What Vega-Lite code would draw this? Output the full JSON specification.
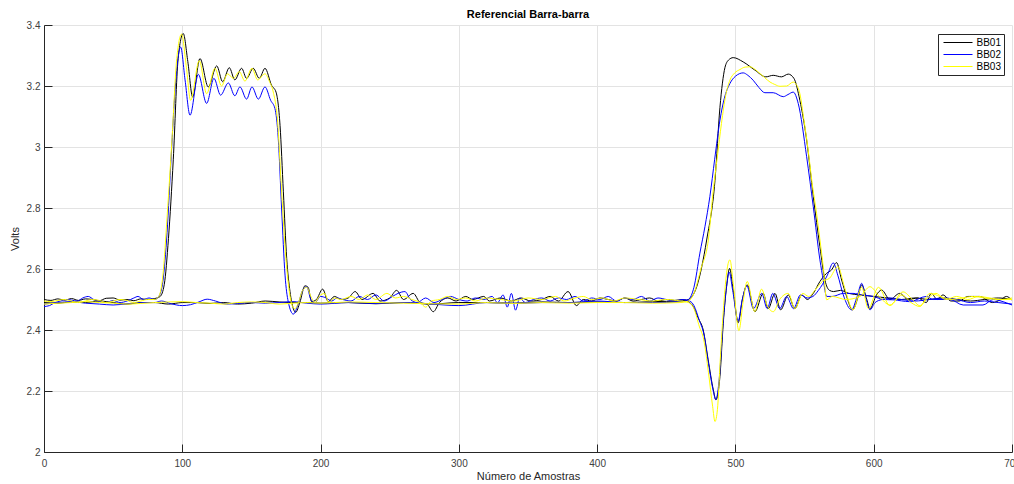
{
"$schema":"https://vega.github.io/schema/vega-lite/v6.json",
"width":968,"height":427,
"autosize":{"type":"none"},
"padding":{"left":44,"top":25,"right":2,"bottom":32},
"background":"#ffffff",
"config":{"font":"Liberation Sans","view":{"stroke":null}},
"title":{"text":"Referencial Barra-barra","fontSize":11,"fontWeight":"bold","color":"#000000","anchor":"middle","offset":0,"font":"Liberation Sans"},
"data":{"values":[
{"s":"BB01","c":"A","x":0,"y":2.5},{"s":"BB01","c":"A","x":5,"y":2.497},{"s":"BB01","c":"A","x":10,"y":2.502},{"s":"BB01","c":"A","x":15,"y":2.498},{"s":"BB01","c":"A","x":20,"y":2.503},{"s":"BB01","c":"A","x":25,"y":2.497},{"s":"BB01","c":"A","x":30,"y":2.502},{"s":"BB01","c":"A","x":35,"y":2.5},{"s":"BB01","c":"A","x":40,"y":2.496},{"s":"BB01","c":"A","x":45,"y":2.504},{"s":"BB01","c":"A","x":50,"y":2.505},{"s":"BB01","c":"A","x":55,"y":2.498},{"s":"BB01","c":"A","x":60,"y":2.5},{"s":"BB01","c":"A","x":65,"y":2.496},{"s":"BB01","c":"A","x":70,"y":2.502},{"s":"BB01","c":"A","x":75,"y":2.5},{"s":"BB01","c":"A","x":80,"y":2.503},{"s":"BB01","c":"A","x":84,"y":2.51},{"s":"BB01","c":"A","x":87,"y":2.55},{"s":"BB01","c":"A","x":90,"y":2.7},{"s":"BB01","c":"A","x":93.5,"y":2.96},{"s":"BB01","c":"A","x":97,"y":3.29},{"s":"BB01","c":"A","x":100.7,"y":3.372},{"s":"BB01","c":"A","x":104,"y":3.28},{"s":"BB01","c":"A","x":107.5,"y":3.164},{"s":"BB01","c":"A","x":112.8,"y":3.29},{"s":"BB01","c":"A","x":118.8,"y":3.197},{"s":"BB01","c":"A","x":124.9,"y":3.266},{"s":"BB01","c":"A","x":129.2,"y":3.214},{"s":"BB01","c":"A","x":134,"y":3.26},{"s":"BB01","c":"A","x":138,"y":3.22},{"s":"BB01","c":"A","x":142.9,"y":3.258},{"s":"BB01","c":"A","x":146.5,"y":3.225},{"s":"BB01","c":"A","x":151.3,"y":3.258},{"s":"BB01","c":"A","x":155.7,"y":3.225},{"s":"BB01","c":"A","x":159.8,"y":3.258},{"s":"BB01","c":"A","x":164.6,"y":3.202},{"s":"BB01","c":"A","x":167.8,"y":3.18},{"s":"BB01","c":"A","x":170.7,"y":3.07},{"s":"BB01","c":"A","x":173.1,"y":2.853},{"s":"BB01","c":"A","x":175.5,"y":2.635},{"s":"BB01","c":"A","x":177.9,"y":2.526},{"s":"BB01","c":"A","x":180.3,"y":2.47},{"s":"BB01","c":"A","x":182,"y":2.458},{"s":"BB01","c":"A","x":185,"y":2.49},{"s":"BB01","c":"A","x":188.7,"y":2.545},{"s":"BB01","c":"A","x":191,"y":2.54},{"s":"BB01","c":"A","x":193.5,"y":2.493},{"s":"BB01","c":"A","x":197,"y":2.5},{"s":"BB01","c":"A","x":201.5,"y":2.534},{"s":"BB01","c":"A","x":205.6,"y":2.493},{"s":"BB01","c":"A","x":210,"y":2.51},{"s":"BB01","c":"A","x":215,"y":2.5},{"s":"BB01","c":"A","x":220,"y":2.505},{"s":"BB01","c":"A","x":225,"y":2.526},{"s":"BB01","c":"A","x":230,"y":2.5},{"s":"BB01","c":"A","x":238,"y":2.52},{"s":"BB01","c":"A","x":243,"y":2.495},{"s":"BB01","c":"A","x":250,"y":2.505},{"s":"BB01","c":"A","x":255,"y":2.53},{"s":"BB01","c":"A","x":260,"y":2.5},{"s":"BB01","c":"A","x":267,"y":2.52},{"s":"BB01","c":"A","x":272,"y":2.49},{"s":"BB01","c":"A","x":277,"y":2.485},{"s":"BB01","c":"A","x":281.5,"y":2.46},{"s":"BB01","c":"A","x":286,"y":2.49},{"s":"BB01","c":"A","x":292,"y":2.505},{"s":"BB01","c":"A","x":298,"y":2.495},{"s":"BB01","c":"A","x":305,"y":2.51},{"s":"BB01","c":"A","x":310,"y":2.5},{"s":"BB01","c":"A","x":318,"y":2.51},{"s":"BB01","c":"A","x":322,"y":2.495},{"s":"BB01","c":"A","x":330,"y":2.505},{"s":"BB01","c":"A","x":338,"y":2.495},{"s":"BB01","c":"A","x":345,"y":2.505},{"s":"BB01","c":"A","x":352,"y":2.495},{"s":"BB01","c":"A","x":360,"y":2.5},{"s":"BB01","c":"A","x":366,"y":2.51},{"s":"BB01","c":"A","x":372,"y":2.495},{"s":"BB01","c":"A","x":379,"y":2.526},{"s":"BB01","c":"A","x":385,"y":2.48},{"s":"BB01","c":"A","x":390,"y":2.5},{"s":"BB01","c":"A","x":396,"y":2.495},{"s":"BB01","c":"A","x":402,"y":2.505},{"s":"BB01","c":"A","x":408,"y":2.5},{"s":"BB01","c":"A","x":414,"y":2.495},{"s":"BB01","c":"A","x":420,"y":2.505},{"s":"BB01","c":"A","x":426,"y":2.495},{"s":"BB01","c":"A","x":432,"y":2.5},{"s":"BB01","c":"A","x":438,"y":2.505},{"s":"BB01","c":"A","x":444,"y":2.495},{"s":"BB01","c":"A","x":450,"y":2.5},{"s":"BB01","c":"A","x":456,"y":2.497},{"s":"BB01","c":"A","x":462,"y":2.5},{"s":"BB01","c":"A","x":466,"y":2.493},{"s":"BB01","c":"A","x":469.5,"y":2.477},{"s":"BB01","c":"A","x":473,"y":2.44},{"s":"BB01","c":"A","x":476.7,"y":2.4},{"s":"BB01","c":"A","x":480.3,"y":2.302},{"s":"BB01","c":"A","x":484,"y":2.204},{"s":"BB01","c":"A","x":485.9,"y":2.171},{"s":"BB01","c":"A","x":488.8,"y":2.248},{"s":"BB01","c":"A","x":491.2,"y":2.422},{"s":"BB01","c":"A","x":493.6,"y":2.542},{"s":"BB01","c":"A","x":495.8,"y":2.602},{"s":"BB01","c":"A","x":498.4,"y":2.531},{"s":"BB01","c":"A","x":502,"y":2.424},{"s":"BB01","c":"A","x":505,"y":2.5},{"s":"BB01","c":"A","x":508.5,"y":2.548},{"s":"BB01","c":"A","x":514.1,"y":2.46},{"s":"BB01","c":"A","x":520.1,"y":2.52},{"s":"BB01","c":"A","x":523.7,"y":2.47},{"s":"BB01","c":"A","x":528.6,"y":2.52},{"s":"BB01","c":"A","x":532.7,"y":2.466},{"s":"BB01","c":"A","x":538.2,"y":2.515},{"s":"BB01","c":"A","x":543,"y":2.47},{"s":"BB01","c":"A","x":548,"y":2.515},{"s":"BB01","c":"A","x":552,"y":2.5},{"s":"BB01","c":"A","x":556.3,"y":2.52},{"s":"BB01","c":"A","x":561.1,"y":2.559},{"s":"BB01","c":"A","x":566,"y":2.586},{"s":"BB01","c":"A","x":569.5,"y":2.597},{"s":"BB01","c":"A","x":573.1,"y":2.621},{"s":"BB01","c":"A","x":576.8,"y":2.564},{"s":"BB01","c":"A","x":580.4,"y":2.51},{"s":"BB01","c":"A","x":584.7,"y":2.466},{"s":"BB01","c":"A","x":588.8,"y":2.51},{"s":"BB01","c":"A","x":591.3,"y":2.548},{"s":"BB01","c":"A","x":595,"y":2.5},{"s":"BB01","c":"A","x":597.3,"y":2.47},{"s":"BB01","c":"A","x":602,"y":2.515},{"s":"BB01","c":"A","x":605.7,"y":2.531},{"s":"BB01","c":"A","x":611.7,"y":2.5},{"s":"BB01","c":"A","x":618.8,"y":2.52},{"s":"BB01","c":"A","x":625,"y":2.5},{"s":"BB01","c":"A","x":632,"y":2.505},{"s":"BB01","c":"A","x":638,"y":2.49},{"s":"BB01","c":"A","x":641.6,"y":2.52},{"s":"BB01","c":"A","x":646,"y":2.5},{"s":"BB01","c":"A","x":650,"y":2.515},{"s":"BB01","c":"A","x":656,"y":2.495},{"s":"BB01","c":"A","x":662,"y":2.495},{"s":"BB01","c":"A","x":668,"y":2.51},{"s":"BB01","c":"A","x":676.5,"y":2.51},{"s":"BB01","c":"A","x":686,"y":2.49},{"s":"BB01","c":"A","x":692,"y":2.5},{"s":"BB01","c":"A","x":696,"y":2.51},{"s":"BB01","c":"A","x":700,"y":2.497},
{"s":"BB01","c":"B","x":0,"y":2.49},{"s":"BB01","c":"B","x":10,"y":2.488},{"s":"BB01","c":"B","x":20,"y":2.492},{"s":"BB01","c":"B","x":30,"y":2.49},{"s":"BB01","c":"B","x":40,"y":2.495},{"s":"BB01","c":"B","x":50,"y":2.49},{"s":"BB01","c":"B","x":60,"y":2.485},{"s":"BB01","c":"B","x":70,"y":2.49},{"s":"BB01","c":"B","x":80,"y":2.49},{"s":"BB01","c":"B","x":90,"y":2.485},{"s":"BB01","c":"B","x":100,"y":2.49},{"s":"BB01","c":"B","x":110,"y":2.49},{"s":"BB01","c":"B","x":120,"y":2.487},{"s":"BB01","c":"B","x":130,"y":2.49},{"s":"BB01","c":"B","x":140,"y":2.485},{"s":"BB01","c":"B","x":150,"y":2.488},{"s":"BB01","c":"B","x":160,"y":2.495},{"s":"BB01","c":"B","x":170,"y":2.492},{"s":"BB01","c":"B","x":180,"y":2.49},{"s":"BB01","c":"B","x":190,"y":2.49},{"s":"BB01","c":"B","x":200,"y":2.488},{"s":"BB01","c":"B","x":220,"y":2.49},{"s":"BB01","c":"B","x":240,"y":2.486},{"s":"BB01","c":"B","x":260,"y":2.49},{"s":"BB01","c":"B","x":280,"y":2.485},{"s":"BB01","c":"B","x":300,"y":2.49},{"s":"BB01","c":"B","x":320,"y":2.49},{"s":"BB01","c":"B","x":340,"y":2.488},{"s":"BB01","c":"B","x":360,"y":2.492},{"s":"BB01","c":"B","x":380,"y":2.49},{"s":"BB01","c":"B","x":400,"y":2.492},{"s":"BB01","c":"B","x":420,"y":2.49},{"s":"BB01","c":"B","x":440,"y":2.493},{"s":"BB01","c":"B","x":460,"y":2.495},{"s":"BB01","c":"B","x":466,"y":2.5},{"s":"BB01","c":"B","x":472,"y":2.542},{"s":"BB01","c":"B","x":479.2,"y":2.695},{"s":"BB01","c":"B","x":485.2,"y":2.89},{"s":"BB01","c":"B","x":488.8,"y":3.13},{"s":"BB01","c":"B","x":492.4,"y":3.26},{"s":"BB01","c":"B","x":495,"y":3.285},{"s":"BB01","c":"B","x":498.4,"y":3.293},{"s":"BB01","c":"B","x":505.6,"y":3.279},{"s":"BB01","c":"B","x":514.1,"y":3.252},{"s":"BB01","c":"B","x":522,"y":3.23},{"s":"BB01","c":"B","x":527.3,"y":3.235},{"s":"BB01","c":"B","x":533.3,"y":3.23},{"s":"BB01","c":"B","x":538.2,"y":3.239},{"s":"BB01","c":"B","x":542.3,"y":3.225},{"s":"BB01","c":"B","x":546.6,"y":3.153},{"s":"BB01","c":"B","x":551.5,"y":3.023},{"s":"BB01","c":"B","x":556.3,"y":2.837},{"s":"BB01","c":"B","x":561.1,"y":2.673},{"s":"BB01","c":"B","x":564.7,"y":2.564},{"s":"BB01","c":"B","x":568,"y":2.53},{"s":"BB01","c":"B","x":571,"y":2.526},{"s":"BB01","c":"B","x":576,"y":2.53},{"s":"BB01","c":"B","x":582,"y":2.52},{"s":"BB01","c":"B","x":590,"y":2.515},{"s":"BB01","c":"B","x":600,"y":2.51},{"s":"BB01","c":"B","x":610,"y":2.505},{"s":"BB01","c":"B","x":620,"y":2.5},{"s":"BB01","c":"B","x":630,"y":2.505},{"s":"BB01","c":"B","x":640,"y":2.5},{"s":"BB01","c":"B","x":650,"y":2.505},{"s":"BB01","c":"B","x":660,"y":2.5},{"s":"BB01","c":"B","x":670,"y":2.495},{"s":"BB01","c":"B","x":680,"y":2.5},{"s":"BB01","c":"B","x":690,"y":2.505},{"s":"BB01","c":"B","x":700,"y":2.5},
{"s":"BB02","c":"A","x":0,"y":2.477},{"s":"BB02","c":"A","x":4,"y":2.48},{"s":"BB02","c":"A","x":8,"y":2.49},{"s":"BB02","c":"A","x":12,"y":2.495},{"s":"BB02","c":"A","x":16,"y":2.5},{"s":"BB02","c":"A","x":20,"y":2.498},{"s":"BB02","c":"A","x":24,"y":2.495},{"s":"BB02","c":"A","x":28,"y":2.505},{"s":"BB02","c":"A","x":32,"y":2.51},{"s":"BB02","c":"A","x":36,"y":2.5},{"s":"BB02","c":"A","x":40,"y":2.495},{"s":"BB02","c":"A","x":45,"y":2.49},{"s":"BB02","c":"A","x":50,"y":2.497},{"s":"BB02","c":"A","x":55,"y":2.49},{"s":"BB02","c":"A","x":60,"y":2.495},{"s":"BB02","c":"A","x":65,"y":2.505},{"s":"BB02","c":"A","x":68,"y":2.51},{"s":"BB02","c":"A","x":72,"y":2.5},{"s":"BB02","c":"A","x":76,"y":2.505},{"s":"BB02","c":"A","x":80,"y":2.5},{"s":"BB02","c":"A","x":83,"y":2.51},{"s":"BB02","c":"A","x":86,"y":2.56},{"s":"BB02","c":"A","x":89,"y":2.72},{"s":"BB02","c":"A","x":92,"y":2.97},{"s":"BB02","c":"A","x":95,"y":3.2},{"s":"BB02","c":"A","x":98.8,"y":3.328},{"s":"BB02","c":"A","x":102,"y":3.22},{"s":"BB02","c":"A","x":105.6,"y":3.104},{"s":"BB02","c":"A","x":111.6,"y":3.238},{"s":"BB02","c":"A","x":117.6,"y":3.143},{"s":"BB02","c":"A","x":122.9,"y":3.225},{"s":"BB02","c":"A","x":127.7,"y":3.17},{"s":"BB02","c":"A","x":133.3,"y":3.21},{"s":"BB02","c":"A","x":138,"y":3.168},{"s":"BB02","c":"A","x":141.7,"y":3.197},{"s":"BB02","c":"A","x":146.5,"y":3.157},{"s":"BB02","c":"A","x":150.4,"y":3.197},{"s":"BB02","c":"A","x":155,"y":3.157},{"s":"BB02","c":"A","x":159.8,"y":3.197},{"s":"BB02","c":"A","x":163.9,"y":3.153},{"s":"BB02","c":"A","x":167,"y":3.126},{"s":"BB02","c":"A","x":169.4,"y":3.028},{"s":"BB02","c":"A","x":171.8,"y":2.8},{"s":"BB02","c":"A","x":174.3,"y":2.58},{"s":"BB02","c":"A","x":176.6,"y":2.493},{"s":"BB02","c":"A","x":180.3,"y":2.452},{"s":"BB02","c":"A","x":184,"y":2.488},{"s":"BB02","c":"A","x":187,"y":2.53},{"s":"BB02","c":"A","x":190,"y":2.542},{"s":"BB02","c":"A","x":193,"y":2.5},{"s":"BB02","c":"A","x":196,"y":2.49},{"s":"BB02","c":"A","x":200,"y":2.51},{"s":"BB02","c":"A","x":204,"y":2.505},{"s":"BB02","c":"A","x":208,"y":2.495},{"s":"BB02","c":"A","x":212,"y":2.505},{"s":"BB02","c":"A","x":216,"y":2.5},{"s":"BB02","c":"A","x":222,"y":2.495},{"s":"BB02","c":"A","x":228,"y":2.51},{"s":"BB02","c":"A","x":234,"y":2.5},{"s":"BB02","c":"A","x":240,"y":2.515},{"s":"BB02","c":"A","x":246,"y":2.495},{"s":"BB02","c":"A","x":252,"y":2.51},{"s":"BB02","c":"A","x":256,"y":2.52},{"s":"BB02","c":"A","x":261,"y":2.526},{"s":"BB02","c":"A","x":265,"y":2.5},{"s":"BB02","c":"A","x":270,"y":2.49},{"s":"BB02","c":"A","x":276,"y":2.505},{"s":"BB02","c":"A","x":282,"y":2.49},{"s":"BB02","c":"A","x":288,"y":2.5},{"s":"BB02","c":"A","x":294,"y":2.51},{"s":"BB02","c":"A","x":300,"y":2.5},{"s":"BB02","c":"A","x":306,"y":2.495},{"s":"BB02","c":"A","x":312,"y":2.505},{"s":"BB02","c":"A","x":318,"y":2.5},{"s":"BB02","c":"A","x":324,"y":2.51},{"s":"BB02","c":"A","x":328,"y":2.49},{"s":"BB02","c":"A","x":332,"y":2.515},{"s":"BB02","c":"A","x":335,"y":2.475},{"s":"BB02","c":"A","x":338,"y":2.52},{"s":"BB02","c":"A","x":341,"y":2.465},{"s":"BB02","c":"A","x":344,"y":2.505},{"s":"BB02","c":"A","x":348,"y":2.49},{"s":"BB02","c":"A","x":354,"y":2.5},{"s":"BB02","c":"A","x":360,"y":2.505},{"s":"BB02","c":"A","x":366,"y":2.495},{"s":"BB02","c":"A","x":372,"y":2.505},{"s":"BB02","c":"A","x":378,"y":2.5},{"s":"BB02","c":"A","x":384,"y":2.51},{"s":"BB02","c":"A","x":390,"y":2.495},{"s":"BB02","c":"A","x":396,"y":2.505},{"s":"BB02","c":"A","x":402,"y":2.5},{"s":"BB02","c":"A","x":408,"y":2.51},{"s":"BB02","c":"A","x":414,"y":2.495},{"s":"BB02","c":"A","x":420,"y":2.505},{"s":"BB02","c":"A","x":426,"y":2.5},{"s":"BB02","c":"A","x":432,"y":2.51},{"s":"BB02","c":"A","x":438,"y":2.495},{"s":"BB02","c":"A","x":444,"y":2.505},{"s":"BB02","c":"A","x":450,"y":2.5},{"s":"BB02","c":"A","x":456,"y":2.495},{"s":"BB02","c":"A","x":462,"y":2.5},{"s":"BB02","c":"A","x":467,"y":2.495},{"s":"BB02","c":"A","x":470,"y":2.48},{"s":"BB02","c":"A","x":474,"y":2.43},{"s":"BB02","c":"A","x":477,"y":2.39},{"s":"BB02","c":"A","x":480.5,"y":2.29},{"s":"BB02","c":"A","x":484,"y":2.2},{"s":"BB02","c":"A","x":485.8,"y":2.172},{"s":"BB02","c":"A","x":488.5,"y":2.25},{"s":"BB02","c":"A","x":491,"y":2.42},{"s":"BB02","c":"A","x":493.5,"y":2.54},{"s":"BB02","c":"A","x":495.5,"y":2.59},{"s":"BB02","c":"A","x":498,"y":2.53},{"s":"BB02","c":"A","x":502,"y":2.43},{"s":"BB02","c":"A","x":505,"y":2.5},{"s":"BB02","c":"A","x":508.3,"y":2.545},{"s":"BB02","c":"A","x":513,"y":2.47},{"s":"BB02","c":"A","x":519,"y":2.52},{"s":"BB02","c":"A","x":523,"y":2.47},{"s":"BB02","c":"A","x":527,"y":2.52},{"s":"BB02","c":"A","x":532,"y":2.47},{"s":"BB02","c":"A","x":537,"y":2.51},{"s":"BB02","c":"A","x":542,"y":2.47},{"s":"BB02","c":"A","x":547,"y":2.515},{"s":"BB02","c":"A","x":552,"y":2.505},{"s":"BB02","c":"A","x":556,"y":2.51},{"s":"BB02","c":"A","x":560,"y":2.53},{"s":"BB02","c":"A","x":563,"y":2.55},{"s":"BB02","c":"A","x":566.5,"y":2.58},{"s":"BB02","c":"A","x":570.7,"y":2.62},{"s":"BB02","c":"A","x":574,"y":2.58},{"s":"BB02","c":"A","x":578,"y":2.515},{"s":"BB02","c":"A","x":584,"y":2.466},{"s":"BB02","c":"A","x":588,"y":2.51},{"s":"BB02","c":"A","x":591.3,"y":2.553},{"s":"BB02","c":"A","x":594,"y":2.51},{"s":"BB02","c":"A","x":597.3,"y":2.466},{"s":"BB02","c":"A","x":601,"y":2.49},{"s":"BB02","c":"A","x":606,"y":2.5},{"s":"BB02","c":"A","x":612,"y":2.505},{"s":"BB02","c":"A","x":620,"y":2.5},{"s":"BB02","c":"A","x":630,"y":2.495},{"s":"BB02","c":"A","x":640,"y":2.5},{"s":"BB02","c":"A","x":650,"y":2.505},{"s":"BB02","c":"A","x":660,"y":2.5},{"s":"BB02","c":"A","x":670,"y":2.49},{"s":"BB02","c":"A","x":680,"y":2.495},{"s":"BB02","c":"A","x":690,"y":2.49},{"s":"BB02","c":"A","x":700,"y":2.485},
{"s":"BB02","c":"B","x":0,"y":2.485},{"s":"BB02","c":"B","x":10,"y":2.49},{"s":"BB02","c":"B","x":20,"y":2.493},{"s":"BB02","c":"B","x":30,"y":2.488},{"s":"BB02","c":"B","x":40,"y":2.485},{"s":"BB02","c":"B","x":50,"y":2.482},{"s":"BB02","c":"B","x":60,"y":2.486},{"s":"BB02","c":"B","x":70,"y":2.49},{"s":"BB02","c":"B","x":80,"y":2.49},{"s":"BB02","c":"B","x":85,"y":2.495},{"s":"BB02","c":"B","x":92,"y":2.486},{"s":"BB02","c":"B","x":100,"y":2.48},{"s":"BB02","c":"B","x":106,"y":2.483},{"s":"BB02","c":"B","x":112,"y":2.492},{"s":"BB02","c":"B","x":118,"y":2.501},{"s":"BB02","c":"B","x":124,"y":2.495},{"s":"BB02","c":"B","x":132,"y":2.485},{"s":"BB02","c":"B","x":140,"y":2.487},{"s":"BB02","c":"B","x":150,"y":2.49},{"s":"BB02","c":"B","x":160,"y":2.488},{"s":"BB02","c":"B","x":170,"y":2.49},{"s":"BB02","c":"B","x":180,"y":2.493},{"s":"BB02","c":"B","x":190,"y":2.488},{"s":"BB02","c":"B","x":200,"y":2.485},{"s":"BB02","c":"B","x":220,"y":2.49},{"s":"BB02","c":"B","x":240,"y":2.487},{"s":"BB02","c":"B","x":260,"y":2.49},{"s":"BB02","c":"B","x":280,"y":2.485},{"s":"BB02","c":"B","x":300,"y":2.48},{"s":"BB02","c":"B","x":320,"y":2.49},{"s":"BB02","c":"B","x":340,"y":2.487},{"s":"BB02","c":"B","x":360,"y":2.49},{"s":"BB02","c":"B","x":380,"y":2.49},{"s":"BB02","c":"B","x":400,"y":2.495},{"s":"BB02","c":"B","x":420,"y":2.49},{"s":"BB02","c":"B","x":440,"y":2.49},{"s":"BB02","c":"B","x":460,"y":2.492},{"s":"BB02","c":"B","x":466,"y":2.5},{"s":"BB02","c":"B","x":470,"y":2.54},{"s":"BB02","c":"B","x":474.3,"y":2.652},{"s":"BB02","c":"B","x":478,"y":2.74},{"s":"BB02","c":"B","x":481.5,"y":2.837},{"s":"BB02","c":"B","x":485,"y":2.96},{"s":"BB02","c":"B","x":488.8,"y":3.088},{"s":"BB02","c":"B","x":492,"y":3.16},{"s":"BB02","c":"B","x":496,"y":3.208},{"s":"BB02","c":"B","x":500,"y":3.232},{"s":"BB02","c":"B","x":505.6,"y":3.243},{"s":"BB02","c":"B","x":509,"y":3.235},{"s":"BB02","c":"B","x":512.8,"y":3.219},{"s":"BB02","c":"B","x":517,"y":3.195},{"s":"BB02","c":"B","x":521.3,"y":3.178},{"s":"BB02","c":"B","x":527.3,"y":3.178},{"s":"BB02","c":"B","x":534.6,"y":3.165},{"s":"BB02","c":"B","x":538,"y":3.172},{"s":"BB02","c":"B","x":541.8,"y":3.18},{"s":"BB02","c":"B","x":545.4,"y":3.143},{"s":"BB02","c":"B","x":551.5,"y":2.968},{"s":"BB02","c":"B","x":556.3,"y":2.804},{"s":"BB02","c":"B","x":561.1,"y":2.63},{"s":"BB02","c":"B","x":563.5,"y":2.564},{"s":"BB02","c":"B","x":566,"y":2.51},{"s":"BB02","c":"B","x":570,"y":2.51},{"s":"BB02","c":"B","x":578,"y":2.52},{"s":"BB02","c":"B","x":585,"y":2.52},{"s":"BB02","c":"B","x":592,"y":2.515},{"s":"BB02","c":"B","x":599.6,"y":2.51},{"s":"BB02","c":"B","x":607,"y":2.5},{"s":"BB02","c":"B","x":614,"y":2.499},{"s":"BB02","c":"B","x":626,"y":2.493},{"s":"BB02","c":"B","x":638,"y":2.51},{"s":"BB02","c":"B","x":643,"y":2.5},{"s":"BB02","c":"B","x":655,"y":2.5},{"s":"BB02","c":"B","x":664.7,"y":2.482},{"s":"BB02","c":"B","x":679,"y":2.482},{"s":"BB02","c":"B","x":686.4,"y":2.5},{"s":"BB02","c":"B","x":692,"y":2.495},{"s":"BB02","c":"B","x":700,"y":2.482},
{"s":"BB03","c":"A","x":0,"y":2.495},{"s":"BB03","c":"A","x":5,"y":2.493},{"s":"BB03","c":"A","x":10,"y":2.497},{"s":"BB03","c":"A","x":15,"y":2.5},{"s":"BB03","c":"A","x":20,"y":2.495},{"s":"BB03","c":"A","x":25,"y":2.49},{"s":"BB03","c":"A","x":30,"y":2.495},{"s":"BB03","c":"A","x":35,"y":2.5},{"s":"BB03","c":"A","x":40,"y":2.497},{"s":"BB03","c":"A","x":45,"y":2.49},{"s":"BB03","c":"A","x":50,"y":2.495},{"s":"BB03","c":"A","x":55,"y":2.5},{"s":"BB03","c":"A","x":60,"y":2.497},{"s":"BB03","c":"A","x":65,"y":2.49},{"s":"BB03","c":"A","x":70,"y":2.495},{"s":"BB03","c":"A","x":75,"y":2.5},{"s":"BB03","c":"A","x":80,"y":2.5},{"s":"BB03","c":"A","x":83,"y":2.51},{"s":"BB03","c":"A","x":86,"y":2.58},{"s":"BB03","c":"A","x":89,"y":2.77},{"s":"BB03","c":"A","x":92.5,"y":3.02},{"s":"BB03","c":"A","x":96,"y":3.29},{"s":"BB03","c":"A","x":99.5,"y":3.37},{"s":"BB03","c":"A","x":103,"y":3.26},{"s":"BB03","c":"A","x":106,"y":3.153},{"s":"BB03","c":"A","x":112.3,"y":3.283},{"s":"BB03","c":"A","x":117.6,"y":3.175},{"s":"BB03","c":"A","x":123.6,"y":3.258},{"s":"BB03","c":"A","x":128.4,"y":3.2},{"s":"BB03","c":"A","x":132.7,"y":3.24},{"s":"BB03","c":"A","x":137,"y":3.225},{"s":"BB03","c":"A","x":141.2,"y":3.247},{"s":"BB03","c":"A","x":145.3,"y":3.216},{"s":"BB03","c":"A","x":150.4,"y":3.258},{"s":"BB03","c":"A","x":154.5,"y":3.22},{"s":"BB03","c":"A","x":159.8,"y":3.24},{"s":"BB03","c":"A","x":163,"y":3.215},{"s":"BB03","c":"A","x":165.8,"y":3.18},{"s":"BB03","c":"A","x":169,"y":3.08},{"s":"BB03","c":"A","x":171.5,"y":2.88},{"s":"BB03","c":"A","x":174.5,"y":2.66},{"s":"BB03","c":"A","x":177,"y":2.54},{"s":"BB03","c":"A","x":179.5,"y":2.48},{"s":"BB03","c":"A","x":181.5,"y":2.47},{"s":"BB03","c":"A","x":184,"y":2.49},{"s":"BB03","c":"A","x":187,"y":2.53},{"s":"BB03","c":"A","x":190,"y":2.54},{"s":"BB03","c":"A","x":193,"y":2.51},{"s":"BB03","c":"A","x":196,"y":2.49},{"s":"BB03","c":"A","x":199,"y":2.51},{"s":"BB03","c":"A","x":203,"y":2.52},{"s":"BB03","c":"A","x":206,"y":2.49},{"s":"BB03","c":"A","x":210,"y":2.505},{"s":"BB03","c":"A","x":215,"y":2.5},{"s":"BB03","c":"A","x":222,"y":2.51},{"s":"BB03","c":"A","x":228,"y":2.5},{"s":"BB03","c":"A","x":234,"y":2.515},{"s":"BB03","c":"A","x":240,"y":2.5},{"s":"BB03","c":"A","x":248,"y":2.52},{"s":"BB03","c":"A","x":254,"y":2.505},{"s":"BB03","c":"A","x":260,"y":2.51},{"s":"BB03","c":"A","x":266,"y":2.5},{"s":"BB03","c":"A","x":272,"y":2.49},{"s":"BB03","c":"A","x":276,"y":2.475},{"s":"BB03","c":"A","x":280,"y":2.495},{"s":"BB03","c":"A","x":286,"y":2.5},{"s":"BB03","c":"A","x":292,"y":2.51},{"s":"BB03","c":"A","x":298,"y":2.5},{"s":"BB03","c":"A","x":305,"y":2.505},{"s":"BB03","c":"A","x":312,"y":2.495},{"s":"BB03","c":"A","x":320,"y":2.505},{"s":"BB03","c":"A","x":330,"y":2.5},{"s":"BB03","c":"A","x":340,"y":2.495},{"s":"BB03","c":"A","x":350,"y":2.505},{"s":"BB03","c":"A","x":360,"y":2.5},{"s":"BB03","c":"A","x":370,"y":2.51},{"s":"BB03","c":"A","x":376,"y":2.495},{"s":"BB03","c":"A","x":384,"y":2.505},{"s":"BB03","c":"A","x":390,"y":2.51},{"s":"BB03","c":"A","x":396,"y":2.5},{"s":"BB03","c":"A","x":404,"y":2.505},{"s":"BB03","c":"A","x":412,"y":2.495},{"s":"BB03","c":"A","x":420,"y":2.505},{"s":"BB03","c":"A","x":430,"y":2.5},{"s":"BB03","c":"A","x":440,"y":2.495},{"s":"BB03","c":"A","x":450,"y":2.5},{"s":"BB03","c":"A","x":460,"y":2.495},{"s":"BB03","c":"A","x":466,"y":2.49},{"s":"BB03","c":"A","x":470,"y":2.47},{"s":"BB03","c":"A","x":474,"y":2.41},{"s":"BB03","c":"A","x":477,"y":2.37},{"s":"BB03","c":"A","x":480.5,"y":2.26},{"s":"BB03","c":"A","x":483.5,"y":2.15},{"s":"BB03","c":"A","x":485.2,"y":2.1},{"s":"BB03","c":"A","x":487,"y":2.14},{"s":"BB03","c":"A","x":489,"y":2.3},{"s":"BB03","c":"A","x":491.5,"y":2.48},{"s":"BB03","c":"A","x":494,"y":2.6},{"s":"BB03","c":"A","x":496,"y":2.63},{"s":"BB03","c":"A","x":498.5,"y":2.55},{"s":"BB03","c":"A","x":502.5,"y":2.398},{"s":"BB03","c":"A","x":505.5,"y":2.49},{"s":"BB03","c":"A","x":508.5,"y":2.559},{"s":"BB03","c":"A","x":514,"y":2.46},{"s":"BB03","c":"A","x":518.9,"y":2.534},{"s":"BB03","c":"A","x":523,"y":2.48},{"s":"BB03","c":"A","x":527.4,"y":2.46},{"s":"BB03","c":"A","x":532,"y":2.5},{"s":"BB03","c":"A","x":538.2,"y":2.52},{"s":"BB03","c":"A","x":543,"y":2.47},{"s":"BB03","c":"A","x":548.7,"y":2.52},{"s":"BB03","c":"A","x":553,"y":2.51},{"s":"BB03","c":"A","x":557.4,"y":2.53},{"s":"BB03","c":"A","x":563,"y":2.56},{"s":"BB03","c":"A","x":568.1,"y":2.57},{"s":"BB03","c":"A","x":574.1,"y":2.608},{"s":"BB03","c":"A","x":578.9,"y":2.54},{"s":"BB03","c":"A","x":585,"y":2.466},{"s":"BB03","c":"A","x":591.3,"y":2.54},{"s":"BB03","c":"A","x":596.1,"y":2.47},{"s":"BB03","c":"A","x":603.4,"y":2.54},{"s":"BB03","c":"A","x":611.7,"y":2.48},{"s":"BB03","c":"A","x":621.2,"y":2.525},{"s":"BB03","c":"A","x":628,"y":2.5},{"s":"BB03","c":"A","x":633.3,"y":2.48},{"s":"BB03","c":"A","x":638,"y":2.5},{"s":"BB03","c":"A","x":645,"y":2.52},{"s":"BB03","c":"A","x":652,"y":2.5},{"s":"BB03","c":"A","x":660,"y":2.51},{"s":"BB03","c":"A","x":668,"y":2.5},{"s":"BB03","c":"A","x":676,"y":2.51},{"s":"BB03","c":"A","x":684,"y":2.505},{"s":"BB03","c":"A","x":692,"y":2.5},{"s":"BB03","c":"A","x":700,"y":2.505},
{"s":"BB03","c":"B","x":0,"y":2.485},{"s":"BB03","c":"B","x":10,"y":2.488},{"s":"BB03","c":"B","x":20,"y":2.49},{"s":"BB03","c":"B","x":30,"y":2.493},{"s":"BB03","c":"B","x":40,"y":2.49},{"s":"BB03","c":"B","x":50,"y":2.488},{"s":"BB03","c":"B","x":60,"y":2.485},{"s":"BB03","c":"B","x":70,"y":2.487},{"s":"BB03","c":"B","x":80,"y":2.49},{"s":"BB03","c":"B","x":90,"y":2.492},{"s":"BB03","c":"B","x":100,"y":2.493},{"s":"BB03","c":"B","x":110,"y":2.49},{"s":"BB03","c":"B","x":120,"y":2.488},{"s":"BB03","c":"B","x":130,"y":2.485},{"s":"BB03","c":"B","x":140,"y":2.49},{"s":"BB03","c":"B","x":150,"y":2.492},{"s":"BB03","c":"B","x":160,"y":2.49},{"s":"BB03","c":"B","x":170,"y":2.485},{"s":"BB03","c":"B","x":180,"y":2.488},{"s":"BB03","c":"B","x":190,"y":2.49},{"s":"BB03","c":"B","x":200,"y":2.488},{"s":"BB03","c":"B","x":220,"y":2.492},{"s":"BB03","c":"B","x":240,"y":2.49},{"s":"BB03","c":"B","x":260,"y":2.488},{"s":"BB03","c":"B","x":280,"y":2.486},{"s":"BB03","c":"B","x":300,"y":2.485},{"s":"BB03","c":"B","x":320,"y":2.49},{"s":"BB03","c":"B","x":340,"y":2.487},{"s":"BB03","c":"B","x":360,"y":2.49},{"s":"BB03","c":"B","x":380,"y":2.488},{"s":"BB03","c":"B","x":400,"y":2.49},{"s":"BB03","c":"B","x":420,"y":2.49},{"s":"BB03","c":"B","x":440,"y":2.488},{"s":"BB03","c":"B","x":460,"y":2.49},{"s":"BB03","c":"B","x":466,"y":2.495},{"s":"BB03","c":"B","x":470,"y":2.52},{"s":"BB03","c":"B","x":475,"y":2.6},{"s":"BB03","c":"B","x":480.4,"y":2.695},{"s":"BB03","c":"B","x":484,"y":2.859},{"s":"BB03","c":"B","x":487,"y":2.97},{"s":"BB03","c":"B","x":489.9,"y":3.077},{"s":"BB03","c":"B","x":493,"y":3.17},{"s":"BB03","c":"B","x":496,"y":3.219},{"s":"BB03","c":"B","x":499.5,"y":3.243},{"s":"BB03","c":"B","x":503.3,"y":3.254},{"s":"BB03","c":"B","x":507,"y":3.262},{"s":"BB03","c":"B","x":510.5,"y":3.263},{"s":"BB03","c":"B","x":514,"y":3.255},{"s":"BB03","c":"B","x":517.7,"y":3.241},{"s":"BB03","c":"B","x":521,"y":3.228},{"s":"BB03","c":"B","x":525,"y":3.213},{"s":"BB03","c":"B","x":528.5,"y":3.205},{"s":"BB03","c":"B","x":532.2,"y":3.199},{"s":"BB03","c":"B","x":537,"y":3.2},{"s":"BB03","c":"B","x":541.8,"y":3.213},{"s":"BB03","c":"B","x":544,"y":3.205},{"s":"BB03","c":"B","x":546.6,"y":3.175},{"s":"BB03","c":"B","x":549.5,"y":3.09},{"s":"BB03","c":"B","x":552.6,"y":2.99},{"s":"BB03","c":"B","x":555.5,"y":2.88},{"s":"BB03","c":"B","x":558.7,"y":2.782},{"s":"BB03","c":"B","x":561,"y":2.7},{"s":"BB03","c":"B","x":563.5,"y":2.608},{"s":"BB03","c":"B","x":566,"y":2.499},{"s":"BB03","c":"B","x":570,"y":2.51},{"s":"BB03","c":"B","x":580,"y":2.5},{"s":"BB03","c":"B","x":590,"y":2.51},{"s":"BB03","c":"B","x":597.3,"y":2.542},{"s":"BB03","c":"B","x":604,"y":2.51},{"s":"BB03","c":"B","x":611.7,"y":2.482},{"s":"BB03","c":"B","x":620.5,"y":2.515},{"s":"BB03","c":"B","x":627,"y":2.49},{"s":"BB03","c":"B","x":633.4,"y":2.477},{"s":"BB03","c":"B","x":640.6,"y":2.52},{"s":"BB03","c":"B","x":648,"y":2.51},{"s":"BB03","c":"B","x":656,"y":2.5},{"s":"BB03","c":"B","x":664,"y":2.505},{"s":"BB03","c":"B","x":672,"y":2.51},{"s":"BB03","c":"B","x":680,"y":2.505},{"s":"BB03","c":"B","x":690,"y":2.5},{"s":"BB03","c":"B","x":700,"y":2.5}
]},
"mark":{"type":"line","interpolate":"monotone","strokeWidth":1,"clip":true},
"encoding":{
"x":{"field":"x","type":"quantitative","scale":{"domain":[0,700],"nice":false,"zero":false},
"axis":{"title":"Número de Amostras","values":[0,100,200,300,400,500,600,700],"format":"d","grid":true,"gridColor":"#e3e3e3","gridWidth":1,"domainColor":"#262626","tickColor":"#262626","tickSize":-8,"labelPadding":14,"labelColor":"#404040","labelFontSize":10,"labelFont":"Liberation Sans","titleFont":"Liberation Sans","titleFontSize":11,"titleFontWeight":"normal","titleColor":"#262626","titlePadding":2,"labelFlush":false}},
"y":{"field":"y","type":"quantitative","scale":{"domain":[2,3.4],"nice":false,"zero":false},
"axis":{"title":"Volts","values":[2,2.2,2.4,2.6,2.8,3,3.2,3.4],"format":"~g","grid":true,"gridColor":"#e3e3e3","gridWidth":1,"domainColor":"#262626","tickColor":"#262626","tickSize":-8,"labelPadding":12,"labelColor":"#404040","labelFontSize":10,"labelFont":"Liberation Sans","titleFont":"Liberation Sans","titleFontSize":11,"titleFontWeight":"normal","titleColor":"#262626","titlePadding":6,"labelFlush":false}},
"color":{"field":"s","type":"nominal","scale":{"domain":["BB01","BB02","BB03"],"range":["#000000","#0000ff","#ffff00"]},
"legend":{"title":null,"orient":"none","legendX":894,"legendY":9,"symbolType":"M-2.9,0H2.9","symbolSize":100,"symbolStrokeWidth":1,"symbolOffset":11.5,"labelFontSize":10,"labelFont":"Liberation Sans","labelColor":"#000000","labelOffset":13,"rowPadding":1,"padding":3,"strokeColor":"#262626","fillColor":"#ffffff"}},
"detail":{"field":"c","type":"nominal"},
"order":{"field":"x","type":"quantitative"}
}
}
